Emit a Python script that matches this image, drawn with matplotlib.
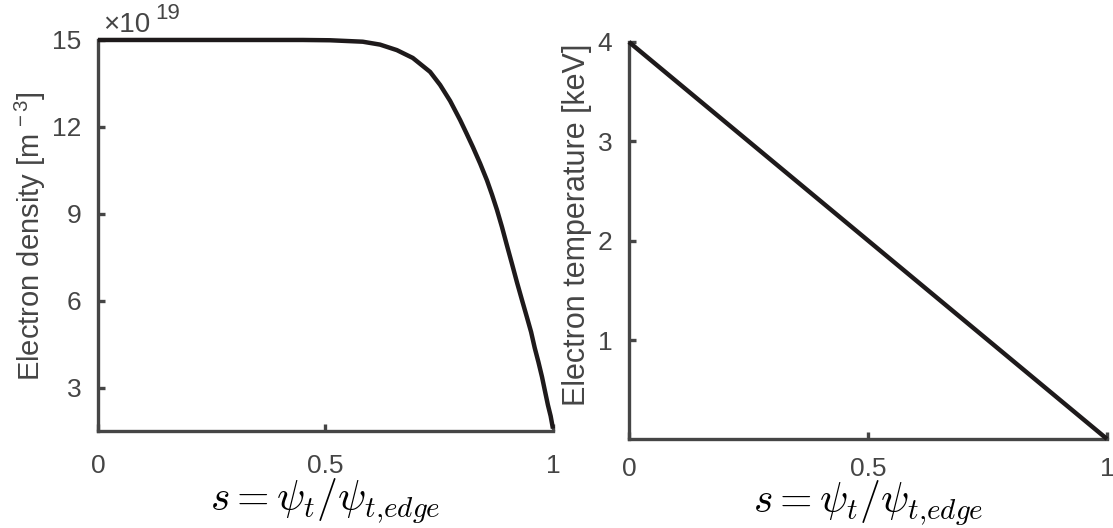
import matplotlib
matplotlib.use("Agg")
import matplotlib.pyplot as plt

plt.rcParams['font.family'] = ['Liberation Sans', 'DejaVu Sans']
plt.rcParams['mathtext.fontset'] = 'custom'
plt.rcParams['mathtext.rm'] = 'Liberation Sans'
plt.rcParams['mathtext.it'] = 'Liberation Sans:italic'
plt.rcParams['mathtext.bf'] = 'Liberation Sans:bold'

# Electron density profile (units of 1e19 m^-3) vs normalised toroidal flux
s_density = [0.0, 0.1, 0.2, 0.3, 0.4, 0.45, 0.510, 0.582, 0.620, 0.657,
             0.692, 0.730, 0.752, 0.774, 0.796, 0.810, 0.824, 0.840, 0.855,
             0.866, 0.877, 0.888, 0.899, 0.910, 0.921, 0.932, 0.943, 0.952,
             0.960, 0.968, 0.976, 0.982, 0.989, 0.995, 1.0]
n_density = [15.0, 15.0, 15.0, 15.0, 15.0, 15.0, 14.99, 14.94, 14.84, 14.65,
             14.38, 13.90, 13.45, 12.90, 12.24, 11.78, 11.31, 10.74, 10.16,
             9.67, 9.14, 8.55, 7.91, 7.28, 6.64, 6.03, 5.43, 4.93,
             4.38, 3.90, 3.38, 2.93, 2.41, 2.03, 1.60]

# Electron temperature profile (keV)
s_temp = [0.0, 1.0]
t_temp = [4.0, 0.01]

density_ticks = [3, 6, 9, 12, 15]
temp_ticks = [1, 2, 3, 4]
s_ticks = [0, 0.5, 1]
s_ticklabels = ['0', '0.5', '1']

axis_color = '#454545'
line_color = '#1e1a1b'
fs = 19

fig = plt.figure(figsize=(11.13, 5.28), dpi=100)
ax1 = fig.add_axes([0.0880, 0.1828, 0.4088, 0.7415])
ax2 = fig.add_axes([0.5651, 0.1686, 0.4295, 0.7519])

xlabel = r'$s = \psi_t/\psi_{t{,}edge}$'

for ax, xpad, lpad in ((ax1, 16, -1), (ax2, 13, -2)):
    for side in ('top', 'right'):
        ax.spines[side].set_visible(False)
    for side in ('left', 'bottom'):
        ax.spines[side].set_color(axis_color)
        ax.spines[side].set_linewidth(2.4)
    ax.tick_params(direction='in', length=5, width=2.4, color=axis_color,
                   labelcolor=axis_color, labelsize=fs)
    ax.tick_params(axis='x', pad=xpad)
    ax.tick_params(axis='y', pad=12)
    ax.set_xlim(0, 1)
    ax.set_xticks(s_ticks)
    ax.set_xticklabels(s_ticklabels)
    ax.set_xlabel(xlabel, fontsize=30, math_fontfamily='cm', color='black',
                  labelpad=lpad)

ax1.plot(s_density, n_density, color=line_color, lw=3.2, solid_capstyle='butt',
         clip_on=False, zorder=3)
ax1.set_ylim(1.5, 15)
ax1.set_yticks(density_ticks)
ax1.set_ylabel(r'Electron density [m$^{\,-3}$]', fontsize=21, color=axis_color)
ax1.yaxis.set_label_coords(-0.110, 0.5)

# exponent marker above the density axis
fig.text(103 / 1113, 1 - 32 / 528, '\u00d710', ha='left', va='baseline',
         fontsize=20, color=axis_color)
fig.text(155 / 1113, 1 - 19 / 528, '19', ha='left', va='baseline',
         fontsize=16, color=axis_color)

ax2.plot(s_temp, t_temp, color=line_color, lw=3.2, solid_capstyle='butt',
         clip_on=False, zorder=3)
ax2.set_ylim(0.01, 4)
ax2.set_yticks(temp_ticks)
ax2.set_ylabel('Electron temperature [keV]', fontsize=22, color=axis_color)
ax2.yaxis.set_label_coords(-0.078, 0.54)

fig.savefig('out.png', dpi=100)
